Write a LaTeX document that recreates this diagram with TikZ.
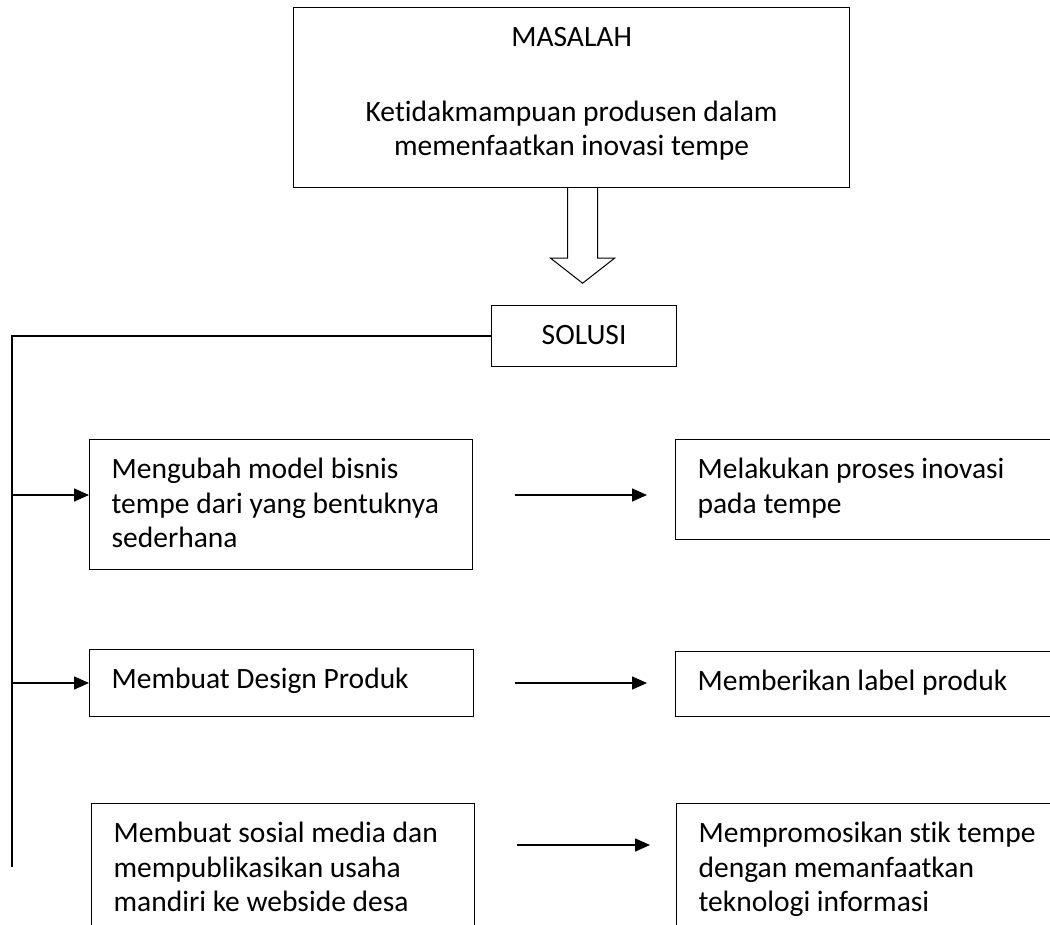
\documentclass[tikz,border=0pt]{standalone}
\usepackage{fontspec}
\setmainfont[Ligatures=NoCommon]{Carlito}
\usetikzlibrary{arrows.meta}
\newcommand{\baris}{\rule{0pt}{39pt}}
\newcommand{\isi}[3]{\parbox[t][#1][t]{#2}{\raggedright\baris #3}}
\tikzset{
  kotak/.style={draw, line width=1.2pt, inner xsep=22pt, inner ysep=0pt, anchor=north west},
  panah/.style={line width=1.5pt, -{Triangle[length=15pt,width=13pt]}},
  garis/.style={line width=1.2pt}
}
\begin{document}
\begin{tikzpicture}[x=1pt, y=-1pt, font=\fontsize{29.5}{34.5}\selectfont]
    \fill[white] (0,0) rectangle (1050,925);
    \useasboundingbox (0,0) rectangle (1050,925);
    \clip (0,0) rectangle (1050,925);
    \node[kotak] (masalah) at (293,7) {\parbox[t][180pt][t]{512pt}{\centering\baris MASALAH\\[40pt]Ketidakmampuan produsen dalam\\memenfaatkan inovasi tempe}};
    \node[kotak] (solusi) at (491,305) {\parbox[t][61pt][t]{141pt}{\centering\baris SOLUSI}};
    \node[kotak] (b1) at (89,439) {\isi{130pt}{339pt}{Mengubah model bisnis\\tempe dari yang bentuknya\\sederhana}};
    \node[kotak] (r1) at (675,439) {\isi{100pt}{351pt}{Melakukan proses inovasi\\pada tempe}};
    \node[kotak] (b2) at (89,649) {\isi{67pt}{340pt}{Membuat Design Produk}};
    \node[kotak] (r2) at (675,651) {\isi{65pt}{351pt}{Memberikan label produk}};
    \node[kotak] (b3) at (91,803) {\isi{150pt}{339pt}{Membuat sosial media dan\\mempublikasikan usaha\\mandiri ke webside desa}};
    \node[kotak] (r3) at (676,803) {\isi{150pt}{351pt}{Mempromosikan stik tempe\\dengan memanfaatkan\\teknologi informasi}};
    \draw[line width=1pt] ([xshift=-4pt]masalah.south) -- ++(0,70) -- ++(-17,0) -- ++(32,25) -- ++(32,-25) -- ++(-17,0) -- ++(0,-70);
    \coordinate (ujung) at (12,867);
    \coordinate (row1) at (0,495);
    \coordinate (row2) at (0,683);
    \coordinate (row3) at (0,845);
    \draw[garis] (solusi.west) -| (ujung);
    \draw[panah] (ujung |- row1) -- (b1.west |- row1);
    \draw[panah] (ujung |- row2) -- (b2.west |- row2);
    \draw[panah, shorten <=42pt, shorten >=28pt] (b1.east |- row1) -- (r1.west |- row1);
    \draw[panah, shorten <=41pt, shorten >=28pt] (b2.east |- row2) -- (r2.west |- row2);
    \draw[panah, shorten <=42pt, shorten >=26pt] (b3.east |- row3) -- (r3.west |- row3);
\end{tikzpicture}
\end{document}
